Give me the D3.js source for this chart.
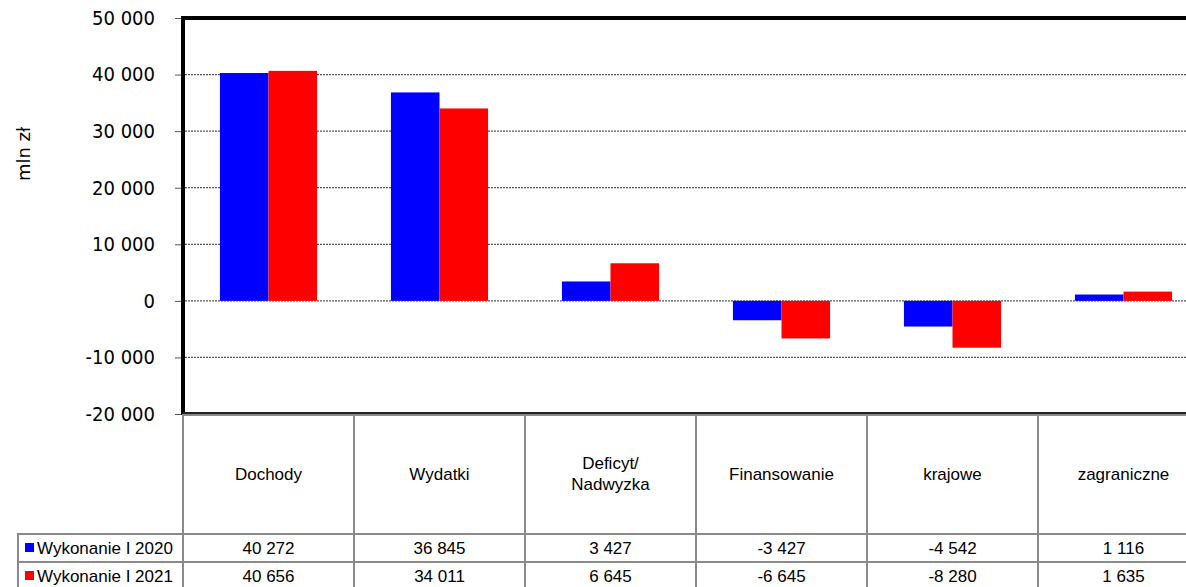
<!DOCTYPE html>
<html>
<head>
<meta charset="utf-8">
<script src="https://cdn.jsdelivr.net/npm/d3@7"></script>
<style>
  body { margin: 0; background: #fff; }
  svg { display: block; }
</style>
</head>
<body>
<div id="chart"></div>
<script>
// dane w mln zł
const categories = ["Dochody", "Wydatki", "Deficyt/\nNadwyzka", "Finansowanie", "krajowe", "zagraniczne"];
const seriesNames = ["Wykonanie I 2020", "Wykonanie I 2021"];
const values2020 = [40272, 36845, 3427, -3427, -4542, 1116];
const values2021 = [40656, 34011, 6645, -6645, -8280, 1635];
const yTicks = [-20000, -10000, 0, 10000, 20000, 30000, 40000, 50000];
const colors = ["#0000ff", "#ff0000"];

const W = 1186, H = 587;
const plotLeft = 183, plotTop = 18, plotBottom = 414, colW = 171;
const headerBottom = 534, row1Bottom = 562;

const svg = d3.select("#chart").append("svg")
    .attr("width", W).attr("height", H);

const x = d3.scaleBand().domain(d3.range(categories.length))
    .range([plotLeft, plotLeft + colW * categories.length]);
const x1 = d3.scaleBand().domain([0, 1])
    .range([colW * 0.216, colW * 0.784]);
const y = d3.scaleLinear().domain([-20000, 50000]).range([plotBottom, plotTop]);

const pl = d3.formatLocale({ decimal: ",", thousands: " ", grouping: [3], currency: ["", " zł"], minus: "-" });
const fmt = pl.format(",");

// linie siatki
svg.append("g").selectAll("line")
    .data(yTicks.filter(t => t > -20000 && t < 50000))
    .enter().append("line")
    .attr("x1", plotLeft + 2).attr("x2", W)
    .attr("y1", d => y(d)).attr("y2", d => y(d))
    .attr("stroke", "#555").attr("stroke-width", 1.3)
    .attr("stroke-dasharray", "2,1");

// słupki
const series = [values2020, values2021];
series.forEach((vals, s) => {
    svg.append("g").selectAll("rect")
        .data(vals)
        .enter().append("rect")
        .attr("x", (d, i) => x(i) + x1(s))
        .attr("width", x1.bandwidth())
        .attr("y", d => y(Math.max(0, d)))
        .attr("height", d => Math.abs(y(d) - y(0)))
        .attr("fill", colors[s]);
});

// oś Y
const yAxis = svg.append("g")
    .attr("transform", `translate(${plotLeft},0)`)
    .call(d3.axisLeft(y).tickValues(yTicks).tickFormat(fmt).tickSize(8).tickPadding(20));
yAxis.select(".domain").remove();
yAxis.selectAll(".tick line").attr("stroke", "#555");
yAxis.selectAll("text")
    .style("font-family", "'DejaVu Sans Condensed', 'DejaVu Sans', sans-serif")
    .style("font-stretch", "condensed")
    .style("font-size", "20px")
    .attr("fill", "#000");

// ramka obszaru wykresu
svg.append("line").attr("x1", plotLeft).attr("x2", plotLeft)
    .attr("y1", plotTop - 2).attr("y2", plotBottom + 1)
    .attr("stroke", "#000").attr("stroke-width", 4);
svg.append("line").attr("x1", plotLeft - 2).attr("x2", W)
    .attr("y1", plotTop).attr("y2", plotTop)
    .attr("stroke", "#000").attr("stroke-width", 4);
svg.append("line").attr("x1", plotLeft).attr("x2", W)
    .attr("y1", plotBottom - 1).attr("y2", plotBottom - 1)
    .attr("stroke", "#222").attr("stroke-width", 2);

// tytuł osi
svg.append("text")
    .attr("transform", "translate(30,154) rotate(-90)")
    .attr("text-anchor", "middle")
    .style("font-family", "'DejaVu Sans', sans-serif")
    .style("font-size", "18px")
    .text("mln zł");

// tabela danych
const grid = svg.append("g").attr("stroke", "#8a8a8a").attr("stroke-width", 2);
grid.append("line").attr("x1", plotLeft).attr("x2", W)
    .attr("y1", plotBottom + 1).attr("y2", plotBottom + 1);
[headerBottom, row1Bottom].forEach(yy => {
    grid.append("line").attr("x1", 18).attr("x2", W).attr("y1", yy).attr("y2", yy);
});
grid.append("line").attr("x1", 18).attr("x2", 18).attr("y1", headerBottom - 1).attr("y2", H);
grid.selectAll(".vl")
    .data(d3.range(categories.length + 1))
    .enter().append("line")
    .attr("x1", i => plotLeft + i * colW).attr("x2", i => plotLeft + i * colW)
    .attr("y1", plotBottom).attr("y2", H);

const tableFont = "Liberation Sans, Arial, sans-serif";

// nagłówki kategorii
svg.append("g").selectAll("text")
    .data(categories)
    .enter().append("text")
    .attr("x", (d, i) => x(i) + colW / 2)
    .attr("y", 474)
    .attr("text-anchor", "middle")
    .style("font-family", tableFont)
    .style("font-size", "17px")
    .each(function (d) {
        const lines = d.split("\n");
        const tx = d3.select(this).attr("x");
        d3.select(this).selectAll("tspan")
            .data(lines).enter().append("tspan")
            .attr("x", tx)
            .attr("dy", (l, k) => k === 0 ? (lines.length > 1 ? "-0.3em" : "0.35em") : "1.25em")
            .text(l => l);
    });

// wiersze wartości
const rowY = [548, 576];
series.forEach((vals, s) => {
    svg.append("g").selectAll("text")
        .data(vals)
        .enter().append("text")
        .attr("x", (d, i) => x(i) + colW / 2)
        .attr("y", rowY[s])
        .attr("dy", "0.35em")
        .attr("text-anchor", "middle")
        .style("font-family", tableFont)
        .style("font-size", "17px")
        .text(fmt);

    svg.append("rect")
        .attr("x", 25).attr("y", rowY[s] - 5)
        .attr("width", 9).attr("height", 9)
        .attr("fill", colors[s]);
    svg.append("text")
        .attr("x", 37).attr("y", rowY[s])
        .attr("dy", "0.35em")
        .style("font-family", tableFont)
        .style("font-size", "17px")
        .text(seriesNames[s]);
});
</script>
</body>
</html>
